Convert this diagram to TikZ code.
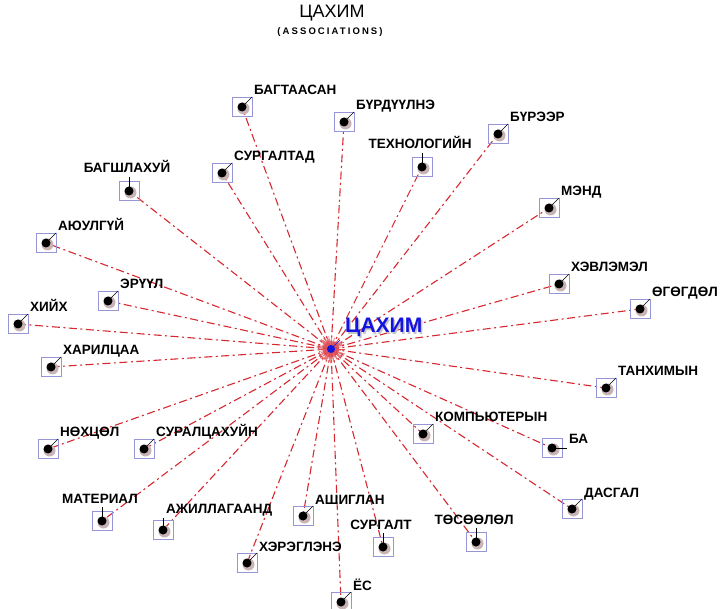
\documentclass[tikz,border=0pt]{standalone}
\usepackage{fontspec}
\setmainfont{Liberation Sans}
\usepackage{xcolor}
\usepackage{tikz}
\usetikzlibrary{backgrounds}
\definecolor{assocred}{RGB}{214,40,48}
\definecolor{boxblue}{RGB}{150,150,215}
\definecolor{hubblue}{RGB}{20,20,225}
\definecolor{dotshade}{RGB}{200,180,180}

\begin{document}
\begin{tikzpicture}[x=1pt,y=-1pt,
  leaf/.style={draw=boxblue,line width=0.7pt,minimum width=20pt,minimum height=19pt,inner sep=0pt},
  assoc/.style={assocred,line width=1.1pt,dash pattern=on 8pt off 3.5pt on 2pt off 3.5pt},
  burst/.style={assocred!80,line width=0.5pt},
  leader/.style={black,line width=0.6pt},
  word/.style={font=\fontsize{13.5}{15}\selectfont\bfseries,inner sep=0pt},
  hubdot/.style={circle,fill=hubblue,inner sep=0pt,minimum size=8pt},
  hubword/.style={font=\fontsize{21}{23}\selectfont\bfseries,inner sep=0pt,anchor=base west},
  lbl d/.style={anchor=base west,xshift=12pt,yshift=12pt},
  lbl v/.style={anchor=base,xshift=-2pt,yshift=18pt},
  lbl r/.style={anchor=base west,xshift=3pt,yshift=17pt},
  lbl h/.style={anchor=base west,xshift=17pt,yshift=5pt},
  tip d/.style={xshift=10pt,yshift=10pt},
  tip v/.style={yshift=14pt},
  tip r/.style={yshift=12pt},
  tip h/.style={xshift=15pt}]
\useasboundingbox (0,0) rectangle (723,609);
%% title
\node[font=\fontsize{18}{20}\selectfont] (title) at (332,13.5) {ЦАХИМ};
\node[font=\fontsize{9.5}{10}\selectfont\bfseries\addfontfeatures{LetterSpace=22}] (subtitle) at (330,32) {(ASSOCIATIONS)};
%% centre
\node[hubdot] (hub) at (331,349) {};
\def\leaves{bagtaasan/242/107/d/БАГТААСАН, burduulne/344/122/d/БҮРДҮҮЛНЭ,
  bureer/498/134/d/БҮРЭЭР, tekhnologiin/422/167/v/ТЕХНОЛОГИЙН,
  surgaltad/222/173/d/СУРГАЛТАД, bagshlakhui/129/191/v/БАГШЛАХУЙ,
  mend/549/208/d/МЭНД, ayulgui/46/243/d/АЮУЛГҮЙ,
  eruul/108/301/d/ЭРҮҮЛ, khevlemel/559/284/d/ХЭВЛЭМЭЛ,
  ugugdul/640/309/d/ӨГӨГДӨЛ, khiikh/18/324/d/ХИЙХ,
  kharilcaa/51/367/d/ХАРИЛЦАА, tankhimyn/606/388/d/ТАНХИМЫН,
  komputeryn/423/434/d/КОМПЬЮТЕРЫН, ba/552/448/h/БА,
  nukhtsul/48/449/d/НӨХЦӨЛ, suraltsakhuin/144/449/d/СУРАЛЦАХУЙН,
  dasgal/572/509/d/ДАСГАЛ, material/102/521/v/МАТЕРИАЛ,
  azhillagaand/163/530/r/АЖИЛЛАГААНД, ashiglan/303/516/d/АШИГЛАН,
  surgalt/383/547/v/СУРГАЛТ, tusuulul/476/542/v/ТӨСӨӨЛӨЛ,
  kheregelne/247/563/d/ХЭРЭГЛЭНЭ, yos/341/602/d/ЁС}
\foreach \n/\x/\y/\k/\t in \leaves {
  \node[leaf] (\n) at (\x,\y) {};
  \begin{pgfonlayer}{background}
    \draw[assoc] (hub.center) -- (\n.center);
  \end{pgfonlayer}
  \fill[dotshade] ([shift={(1.5,1.5)}]\n.center) circle (6pt);
  \fill[black] (\n.center) circle (4.5pt);
  \coordinate[tip \k] (\n-e) at (\n.center);
  \draw[leader] (\n.center) -- (\n-e);
  \node[word,lbl \k] (\n-t) at (\n.center) {\t};
}
\begin{pgfonlayer}{background}
  \pgfmathsetseed{7}
  \foreach \a in {0,4,...,356} {
    \pgfmathsetmacro\r{7+8*rnd}
    \draw[burst] (hub.center) -- ++(\a:\r pt);
  }
\end{pgfonlayer}
\coordinate (hub-e) at ([xshift=9pt,yshift=9pt]hub.center);
\draw[hubblue,line width=0.6pt] (hub.center) -- (hub-e);
\node[hubword,text=gray!45] (hub-s) at ([xshift=15.5pt,yshift=14.5pt]hub.center) {ЦАХИМ};
\node[hubword,text=hubblue] (hub-t) at ([xshift=14pt,yshift=16pt]hub.center) {ЦАХИМ};
\end{tikzpicture}
\end{document}
